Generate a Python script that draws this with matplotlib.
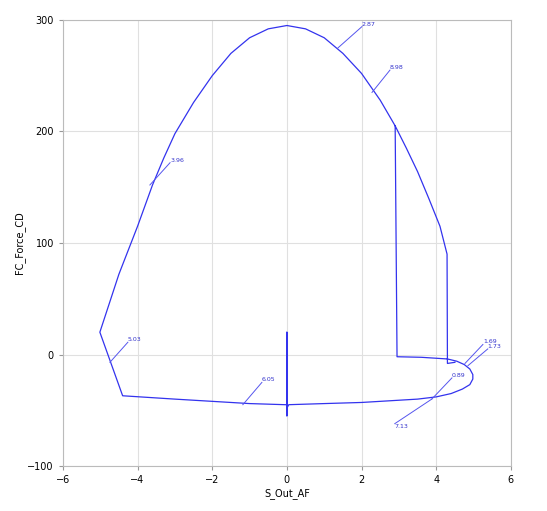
import matplotlib
matplotlib.use("Agg")
import matplotlib.pyplot as plt

xs = [2.90, 2.95, 3.6, 4.3, 4.55, 4.75, 4.9, 4.98, 4.98, 4.9, 4.7, 4.4, 4.0, 3.5, 3.0, 2.0, 1.0, 0.05,
      0.0, 0.0, 0.0, 0.0, -0.05, -1.0, -2.0, -3.0, -4.4,
      -5.01, -4.5, -4.0, -3.6, -3.3, -3.0, -2.5, -2.0, -1.5, -1.0, -0.5, 0.0, 0.5, 1.0, 1.5, 2.0, 2.5, 2.9,
      3.2, 3.5, 3.8, 4.1, 4.29, 4.30, 4.5]
ys = [205, -2, -2.5, -4, -6, -9, -13, -18, -22, -27, -31, -35, -38, -40, -41, -43, -44, -45,
      -48, 20, -55, -45, -45, -44, -42, -40, -37,
      20, 72, 115, 152, 176, 198, 226, 250, 270, 284, 292, 295, 292, 284, 270, 252, 228, 205,
      185, 164, 140, 115, 90, -8, -7]

ann_text = ["2.87", "8.98", "3.96", "5.03", "6.05", "0.89", "7.13", "1.69", "1.73"]
ann_pt = [(1.37, 275), (2.28, 235), (-3.67, 152), (-4.74, -7), (-1.18, -45), (3.88, -40), (3.88, -40), (4.77, -8), (4.85, -10)]
ann_txt = [(2.01, 294), (2.76, 255), (-3.13, 172), (-4.26, 11), (-0.67, -25), (4.42, -21), (2.89, -62), (5.25, 9), (5.38, 5)]

fig = plt.figure(figsize=(5.47, 5.11), dpi=100)
ax = fig.add_axes([0.115, 0.088, 0.819, 0.873])
ax.plot(xs, ys, color="#3333ee", lw=0.9)
for t, p, q in zip(ann_text, ann_pt, ann_txt):
    ax.plot([p[0], q[0]], [p[1], q[1]], color="#5555ee", lw=0.7)
    ax.text(q[0], q[1], t, fontsize=4.5, color="#3333cc", ha="left", va="bottom" if q[1] > p[1] else "top")
ax.set_xlim(-6, 6)
ax.set_ylim(-100, 300)
ax.set_xticks([-6, -4, -2, 0, 2, 4, 6])
ax.set_yticks([-100, 0, 100, 200, 300])
ax.grid(True, color="#e0e0e0", lw=0.8)
ax.set_axisbelow(True)
for s in ax.spines.values():
    s.set_color("#bbbbbb")
ax.tick_params(labelsize=7, length=3, color="#999999")
ax.set_xlabel("S_Out_AF", fontsize=7, labelpad=2)
ax.set_ylabel("FC_Force_CD", fontsize=7, labelpad=2)
fig.savefig("out.png", dpi=100)
